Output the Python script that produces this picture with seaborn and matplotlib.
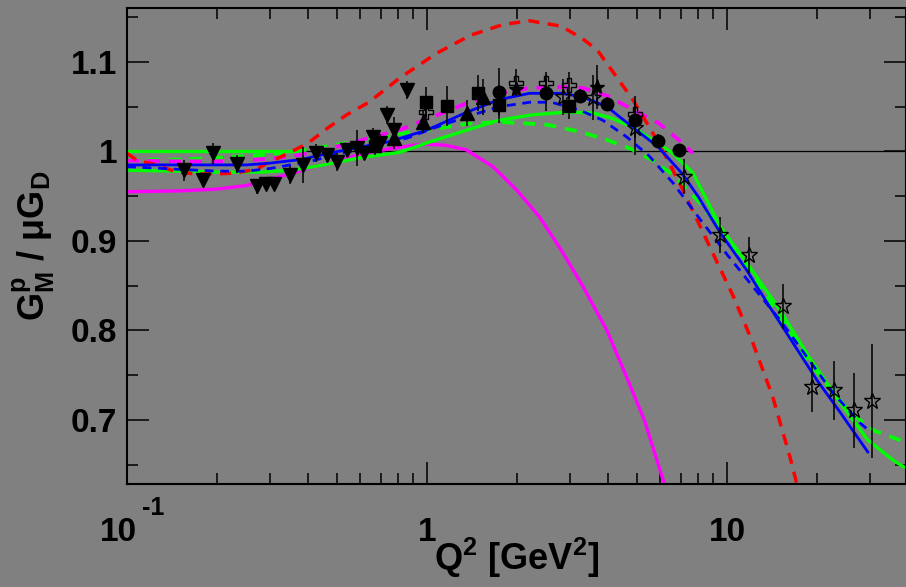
import matplotlib
matplotlib.use('Agg')
import matplotlib.pyplot as plt
import matplotlib.transforms as mtransforms
import seaborn as sns
from matplotlib.ticker import FixedLocator, NullFormatter

# ---- model curves (Q^2 in GeV^2, ratio) ----
red_q = [0.10, 0.108, 0.126, 0.146, 0.17, 0.20, 0.23, 0.27, 0.293, 0.34, 0.40, 0.47, 0.54, 0.64,
         0.81, 1.08, 1.4, 1.8, 2.2, 2.8, 3.3, 3.7, 4.29, 4.85, 5.65, 6.31, 7.13, 7.94, 8.95,
         10.5, 12.2, 14.2, 16.2, 17.2]
red_v = [0.998, 0.990, 0.985, 0.977, 0.975, 0.975, 0.976, 0.980, 0.987, 0.997, 1.009, 1.027, 1.041, 1.055,
         1.082, 1.110, 1.130, 1.142, 1.146, 1.140, 1.126, 1.113, 1.083, 1.058, 1.021, 0.992, 0.957, 0.924, 0.887,
         0.838, 0.786, 0.726, 0.659, 0.625]

mag_q = [0.10, 0.15, 0.20, 0.25, 0.30, 0.35, 0.40, 0.50, 0.60, 0.75, 0.90, 1.0, 1.15, 1.35, 1.66,
         1.99, 2.37, 2.8, 3.3, 3.98, 4.6, 5.3, 6.3]
mag_v = [0.955, 0.956, 0.958, 0.962, 0.969, 0.975, 0.981, 0.989, 0.997, 1.003, 1.007, 1.008, 1.007, 1.002, 0.983,
         0.957, 0.927, 0.89, 0.85, 0.80, 0.75, 0.70, 0.62]

magd_q = [0.10, 0.15, 0.20, 0.25, 0.30, 0.36, 0.45, 0.55, 0.66, 0.81, 1.05, 1.36, 1.74, 2.2, 2.8,
          3.3, 4.0, 4.9, 5.9, 6.9, 7.7]
magd_v = [0.990, 0.989, 0.989, 0.990, 0.992, 0.995, 1.002, 1.009, 1.016, 1.024, 1.039, 1.054, 1.065, 1.071, 1.072,
          1.071, 1.062, 1.046, 1.032, 1.013, 0.998]

blue_q = [0.10, 0.20, 0.25, 0.30, 0.38, 0.47, 0.60, 0.75, 1.0, 1.36, 1.74, 2.2, 2.8, 3.3, 3.98,
          4.85, 5.9, 7.1, 8.0, 9.5, 11.6, 13.9, 16.6, 19.9, 23.9, 29.5]
blue_v = [0.985, 0.985, 0.985, 0.987, 0.991, 0.998, 1.005, 1.011, 1.024, 1.044, 1.058, 1.065, 1.065, 1.061, 1.050,
          1.027, 1.005, 0.975, 0.950, 0.909, 0.868, 0.826, 0.786, 0.745, 0.708, 0.664]

blued_q = [0.10, 0.15, 0.20, 0.25, 0.30, 0.35, 0.42, 0.50, 0.60, 0.86, 1.05, 1.36, 1.74, 2.2, 2.6,
           3.24, 3.85, 4.64, 5.5, 6.6, 8.1, 10.0, 12.2, 15.0, 18.5, 22.6, 27.7, 29.3]
blued_v = [0.983, 0.980, 0.978, 0.978, 0.981, 0.985, 0.990, 0.997, 1.002, 1.015, 1.026, 1.039, 1.050, 1.055, 1.055,
           1.046, 1.035, 1.016, 0.995, 0.965, 0.925, 0.885, 0.849, 0.812, 0.770, 0.730, 0.697, 0.690]

grn_q = [0.10, 0.15, 0.20, 0.28, 0.35, 0.42, 0.50, 0.60, 0.81, 1.05, 1.36, 1.74, 2.25, 2.93, 3.58,
         4.15, 4.85, 5.65, 6.6, 7.7, 9.5, 11.9, 15.0, 18.8, 23.9, 29.4, 35.8, 39.5]
grn_v = [0.979, 0.978, 0.977, 0.977, 0.979, 0.983, 0.988, 0.993, 0.999, 1.012, 1.024, 1.035, 1.041, 1.044, 1.043,
         1.037, 1.027, 1.013, 0.998, 0.976, 0.916, 0.871, 0.823, 0.770, 0.719, 0.678, 0.655, 0.646]

grnd_q = [0.10, 0.15, 0.20, 0.28, 0.35, 0.45, 0.55, 0.70, 0.90, 1.1, 1.36, 1.74, 1.99, 2.5, 3.24,
          3.98, 4.85, 5.65, 6.6, 8.0, 10.0, 12.2, 15.0, 18.5, 22.0, 26.0, 31.0, 39.5]
grnd_v = [0.991, 0.991, 0.993, 0.996, 0.999, 1.005, 1.010, 1.016, 1.022, 1.026, 1.031, 1.033, 1.032, 1.030, 1.022,
          1.013, 1.002, 0.990, 0.974, 0.945, 0.905, 0.862, 0.815, 0.768, 0.735, 0.707, 0.688, 0.675]

grnflat_q = [0.10, 0.38]
grnflat_v = [1.0, 1.0]

# ---- data points ----
dtri_q = [0.155, 0.179, 0.193, 0.233, 0.271, 0.290, 0.309, 0.350, 0.386, 0.426, 0.464, 0.501, 0.541, 0.583,
          0.616, 0.660, 0.698, 0.736, 0.776, 0.857]
dtri_v = [0.979, 0.968, 0.998, 0.986, 0.961, 0.964, 0.964, 0.974, 0.985, 0.998, 0.996, 0.988, 1.002, 1.004,
          0.998, 1.016, 1.010, 1.041, 1.024, 1.069]
dtri_e = [0.012, 0.008, 0.012, 0.010, 0.008, 0.007, 0.007, 0.010, 0.020, 0.010, 0.008, 0.010, 0.008, 0.020,
          0.008, 0.010, 0.010, 0.010, 0.015, 0.010]

utri_q = [0.776, 0.97, 1.36, 1.54]
utri_v = [1.015, 1.033, 1.043, 1.061]
utri_e = [0.012, 0.012, 0.015, 0.020]

sq_q = [0.67, 0.995, 1.17, 1.48, 1.74, 2.97]
sq_v = [1.006, 1.055, 1.051, 1.065, 1.052, 1.051]
sq_e = [0.010, 0.017, 0.022, 0.020, 0.020, 0.015]

circ_q = [1.74, 2.49, 3.24, 3.98, 4.94, 5.91, 6.9]
circ_v = [1.067, 1.065, 1.062, 1.053, 1.035, 1.012, 1.002]
circ_e = [0.026, 0.020, 0.008, 0.008, 0.020, 0.008, 0.006]

cross_q = [0.995, 1.98, 2.49, 2.97, 4.94]
cross_v = [1.044, 1.077, 1.077, 1.074, 1.042]
cross_e = [0.015, 0.015, 0.012, 0.015, 0.020]

fstar_q = [1.98, 3.7]
fstar_v = [1.070, 1.072]
fstar_e = [0.008, 0.025]

ostar_q = [2.84, 3.58, 4.94, 7.2, 9.5, 11.8, 15.4, 19.2, 22.8, 26.5, 30.5]
ostar_v = [1.061, 1.060, 1.026, 0.972, 0.907, 0.884, 0.827, 0.737, 0.733, 0.711, 0.721]
ostar_e = [0.020, 0.025, 0.030, 0.020, 0.020, 0.020, 0.025, 0.028, 0.033, 0.042, 0.064]

BG = '#808080'
sns.set_style('ticks')
plt.rcParams['font.family'] = ['Liberation Sans', 'DejaVu Sans']
plt.rcParams['font.weight'] = 'bold'
plt.rcParams['mathtext.fontset'] = 'custom'
plt.rcParams['mathtext.rm'] = 'Liberation Sans:bold'
plt.rcParams['mathtext.bf'] = 'Liberation Sans:bold'
plt.rcParams['mathtext.it'] = 'Liberation Sans:bold'
plt.rcParams['mathtext.default'] = 'regular'
for key in ['text.color', 'axes.labelcolor', 'xtick.color', 'ytick.color',
            'xtick.labelcolor', 'ytick.labelcolor']:
    plt.rcParams[key] = 'black'

fig = plt.figure(figsize=(9.06, 5.87), dpi=100, facecolor=BG)
ax = fig.add_axes([127 / 906, 103 / 587, 779 / 906, 476 / 587])
ax.set_facecolor(BG)
ax.set_xscale('log')
ax.set_xlim(0.1, 39.5)
ax.set_ylim(0.6285, 1.1603)

ax.axhline(1.0, color='black', lw=0.9, zorder=1)

def curve(q, v, color, lw, ls='-'):
    sns.lineplot(x=q, y=v, color=color, lw=lw, linestyle=ls, ax=ax,
                 estimator=None, sort=False, zorder=2)

dash = (0, (3.2, 2.4))
curve(grnflat_q, grnflat_v, '#00ff00', 2.4)
curve(mag_q, mag_v, '#ff00ff', 2.4)
curve(grn_q, grn_v, '#00ff00', 2.4)
curve(grnd_q, grnd_v, '#00ff00', 2.7, dash)
curve(magd_q, magd_v, '#ff00ff', 2.7, dash)
curve(red_q, red_v, '#ff0000', 2.5, dash)
curve(blued_q, blued_v, '#0000ff', 2.0, dash)
curve(blue_q, blue_v, '#0000ff', 2.0)

def points(q, v, e, marker, ms, filled=True):
    ax.errorbar(q, v, yerr=e, fmt=marker, ms=ms, color='black', ecolor='black',
                elinewidth=1.1, capsize=0, mfc='black' if filled else 'none',
                mec='black', mew=1.0, zorder=5)

points(dtri_q, dtri_v, dtri_e, 'v', 9.5)
points(utri_q, utri_v, utri_e, '^', 9.5)
points(sq_q, sq_v, sq_e, 's', 8.5)
points(circ_q, circ_v, circ_e, 'o', 9)
points(cross_q, cross_v, cross_e, 'P', 10, filled=False)
points(fstar_q, fstar_v, fstar_e, '*', 11)
points(ostar_q, ostar_v, ostar_e, '*', 12, filled=False)

# axes frame and ticks
for s in ax.spines.values():
    s.set_linewidth(1.5)
    s.set_color('black')
ax.yaxis.set_major_locator(FixedLocator([0.7, 0.8, 0.9, 1.0, 1.1]))
ax.yaxis.set_minor_locator(FixedLocator([0.65, 0.75, 0.85, 0.95, 1.05, 1.15]))
ax.set_yticklabels(['0.7', '0.8', '0.9', '1', '1.1'])
ax.xaxis.set_major_locator(FixedLocator([0.1, 1, 10]))
minor_x = [m * d for d in (0.1, 1, 10) for m in range(2, 10) if m * d < 39.5]
ax.xaxis.set_minor_locator(FixedLocator(minor_x))
ax.xaxis.set_major_formatter(NullFormatter())
ax.xaxis.set_minor_formatter(NullFormatter())
ax.tick_params(which='both', direction='in', top=True, right=True, color='black', width=1.1)
ax.tick_params(which='major', length=16)
ax.tick_params(which='minor', length=8)
ax.tick_params(axis='y', labelsize=24, pad=7)

# x tick labels drawn on the baseline; the 10^-1 exponent placed as its own text
xt = ax.get_xaxis_transform()
for pos, lab in [(1, '1'), (10, '10')]:
    ax.text(pos, -0.12, lab, transform=xt, ha='center', va='baseline',
            fontsize=24, fontweight='bold')
ax.text(0.1, -0.12, '10', ha='center', va='baseline', fontsize=24, fontweight='bold',
        transform=mtransforms.offset_copy(xt, fig=fig, x=-9, y=0, units='dots'))
ax.text(0.1, -0.12, '-1', ha='left', va='baseline', fontsize=18, fontweight='bold',
        transform=mtransforms.offset_copy(xt, fig=fig, x=15, y=26, units='dots'))

ax.set_xlabel(r'Q$^{2}$ [GeV$^{2}$]', fontsize=26, fontweight='bold', labelpad=34)
ax.set_ylabel(r'G$^{p}_{M}$ / $\mu$G$_{D}$', fontsize=26, fontweight='bold', labelpad=10)

fig.savefig('out.png', dpi=100, facecolor=BG)
